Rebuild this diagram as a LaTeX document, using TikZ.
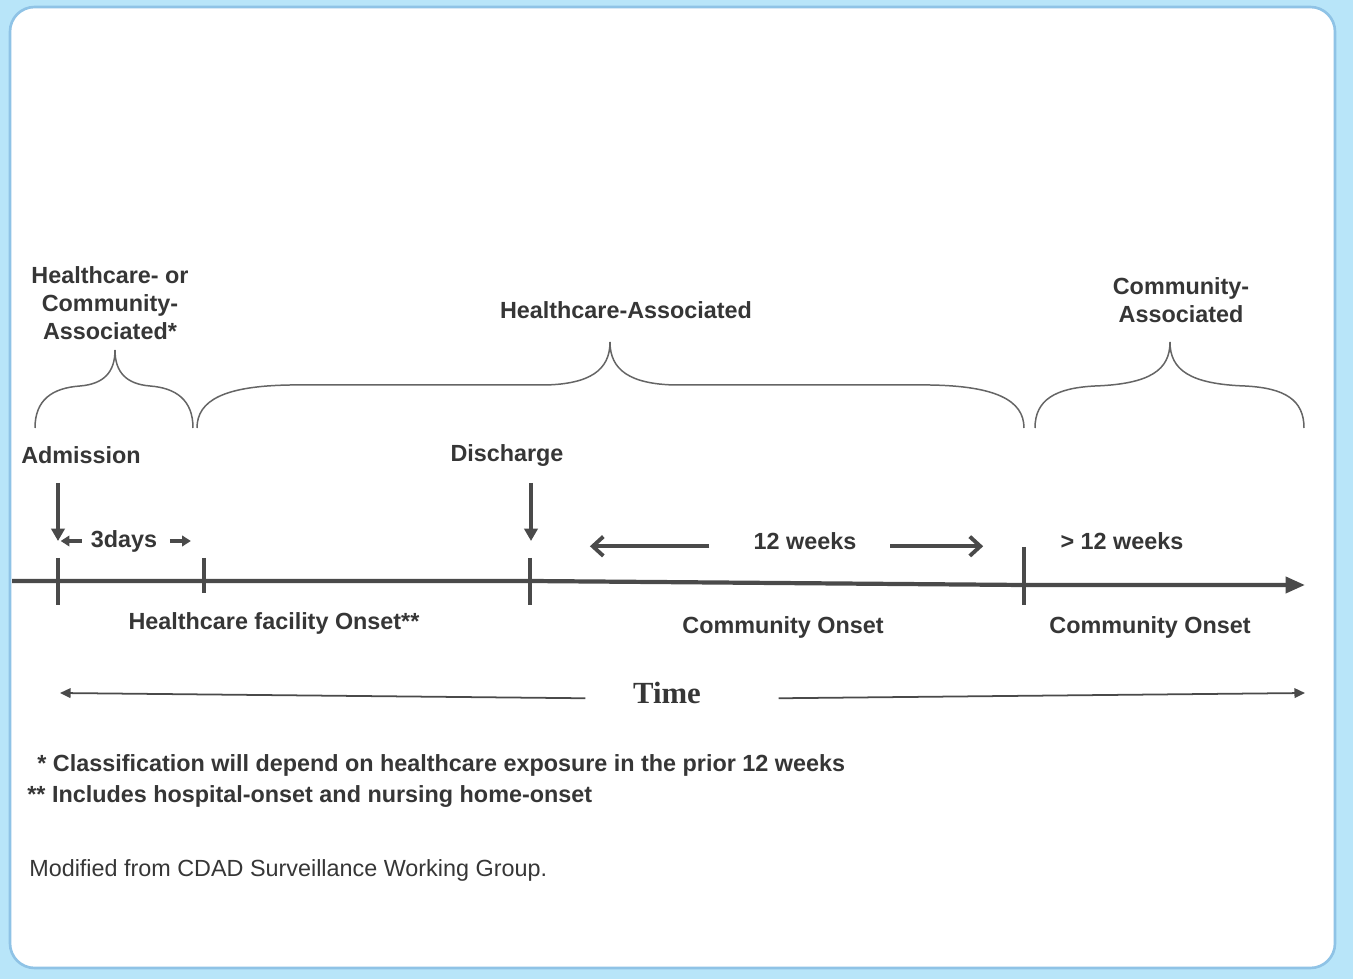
\documentclass[tikz,border=0pt]{standalone}
\usepackage{fontspec}
\setmainfont{Liberation Sans}
\newfontfamily\timefont{Liberation Serif}
\usetikzlibrary{arrows.meta,positioning}

\definecolor{framebg}{HTML}{B8E5F9}
\definecolor{frameline}{HTML}{8FC3E6}
\definecolor{inkgray}{HTML}{363636}
\definecolor{linegray}{HTML}{4A4A4A}

\tikzset{
  lbl/.style={font=\fontsize{13.3}{16}\selectfont\bfseries, text=inkgray, align=center, inner sep=0pt},
  note/.style={font=\fontsize{13.3}{16}\selectfont\bfseries, text=inkgray, anchor=west, inner sep=0pt},
  bracestyle/.style={draw=linegray!85, line width=0.85pt},
  tick/.style={draw=linegray, line width=2.4pt},
  axis/.style={draw=linegray, line width=2.4pt, -{Triangle[length=11pt,width=9pt]}},
  downarr/.style={draw=linegray, line width=2pt, -{Triangle[length=7pt,width=7.5pt]}},
  smallarr/.style={draw=linegray, line width=1.8pt, -{Triangle[length=5pt,width=6pt]}},
  wkarr/.style={draw=linegray, line width=2.2pt, -{Straight Barb[length=6pt,width=11pt]}},
  timearr/.style={draw=linegray, line width=1pt, -{Triangle[length=6pt,width=5.5pt]}}
}

\begin{document}
\begin{tikzpicture}[x=0.02cm, y=-0.02cm]
  % frame
  \fill[framebg] (0,0) rectangle (1353,979);
  \filldraw[fill=white, draw=frameline, line width=1.5pt, rounded corners=14pt] (10,7) rectangle (1335,968);

  % time line
  \coordinate (t0) at (12,581);
  \coordinate (tA) at (58,581);
  \coordinate (tB) at (204,581);
  \coordinate (tD) at (530,581);
  \coordinate (tE) at (1024,585);
  \coordinate (t1) at (1305,585);

  \draw[axis] (t0) -- (tD) -- (tE) -- (t1);

  \draw[tick] (tA) ++(0,-23) -- ++(0,47);
  \draw[tick] (tB) ++(0,-23) -- ++(0,35);
  \draw[tick] (tD) ++(0,-23) -- ++(0,47);
  \draw[tick] (tE) ++(0,-38) -- ++(0,58);

  % events
  \node[lbl] (adm) at (81,455) {Admission};
  \node[lbl] (dis) at (507,456) {Discharge};
  \coordinate (admtop) at (58,483);
  \coordinate (admbot) at (58,541);
  \coordinate (distop) at (531,483);
  \coordinate (disbot) at (531,541);
  \draw[downarr] (admtop) -- (admbot);
  \draw[downarr] (distop) -- (disbot);

  % intervals
  \node[lbl] (days) at (124,541) {3days};
  \draw[smallarr] ([xshift=-5pt]days.west) -- ([xshift=-17pt]days.west);
  \draw[smallarr] ([xshift=7pt]days.east) -- ([xshift=19pt]days.east);

  \node[lbl] (wk) at (805,541) {12 weeks};
  \draw[wkarr] ([xshift=-25pt,yshift=-3pt]wk.west) -- ([xshift=-93pt,yshift=-3pt]wk.west);
  \draw[wkarr] ([xshift=19pt,yshift=-3pt]wk.east) -- ([xshift=72pt,yshift=-3pt]wk.east);

  \node[lbl] (gtwk) at (1122,541) {> 12 weeks};

  % onsets
  \node[lbl] (hfo) at (274,623) {Healthcare facility Onset**};
  \node[lbl] (co1) at (783,627) {Community Onset};
  \node[lbl] (co2) at (1150,627) {Community Onset};

  % braces
  \draw[bracestyle] (35,428) .. controls (35,400) and (52,388) .. (80,386)
    .. controls (104,384) and (115,372) .. (115,350)
    .. controls (115,372) and (126,384) .. (150,386)
    .. controls (176,388) and (193,400) .. (193,428);
  \draw[bracestyle] (197,428) .. controls (197,400) and (225,386) .. (290,385)
    -- (545,385) .. controls (590,384) and (610,370) .. (610,342)
    .. controls (610,370) and (630,384) .. (675,385)
    -- (930,385) .. controls (995,386) and (1024,400) .. (1024,428);
  \draw[bracestyle] (1035,428) .. controls (1035,400) and (1055,388) .. (1095,386)
    .. controls (1150,384) and (1170,370) .. (1170,342)
    .. controls (1170,370) and (1190,384) .. (1245,386)
    .. controls (1285,388) and (1304,400) .. (1304,428);

  \node[lbl] (hoca) at (110,303) {Healthcare- or\\Community-\\Associated*};
  \node[lbl] (ha) at (626,310) {Healthcare-Associated};
  \node[lbl] (ca) at (1181,300) {Community-\\Associated};

  % time
  \node[inner sep=0pt, text=inkgray, font=\fontsize{17.5}{20}\selectfont\timefont\bfseries] (time) at (667,693) {Time};
  \coordinate (timeL) at (60,693);
  \coordinate (timeR) at (1305,693);
  \draw[timearr] ([xshift=-27pt,yshift=-3pt]time.west) -- (timeL);
  \draw[timearr] ([xshift=44pt,yshift=-3pt]time.east) -- (timeR);

  % notes
  \node[note] (n1) at (37,765) {* Classification will depend on healthcare exposure in the prior 12 weeks};
  \node[note] (n2) at (27,797) {** Includes hospital-onset and nursing home-onset};
  \node[note, font=\fontsize{13.3}{16}\selectfont] (n3) at (29,870) {Modified from CDAD Surveillance Working Group.};
\end{tikzpicture}
\end{document}
